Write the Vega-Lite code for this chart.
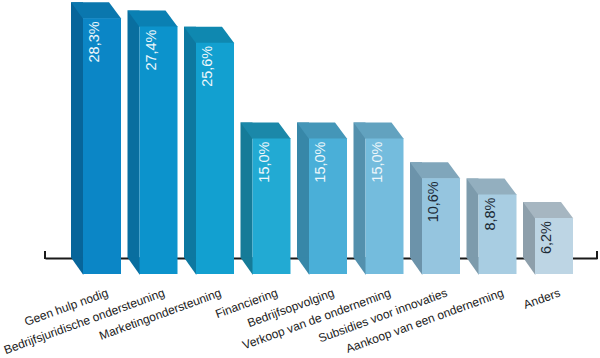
{
  "$schema": "https://vega.github.io/schema/vega-lite/v6.json",
  "width": 552,
  "height": 271,
  "autosize": {"type": "none"},
  "padding": {"left": 45, "right": 3, "top": 3, "bottom": 84},
  "background": "#ffffff",
  "config": {"view": {"stroke": null}},
  "data": {
    "values": [
      {"cat": "Geen hulp nodig", "value": 28.3, "label": "28,3%"},
      {"cat": "Bedrijfsjuridische ondersteuning", "value": 27.4, "label": "27,4%"},
      {"cat": "Marketingondersteuning", "value": 25.6, "label": "25,6%"},
      {"cat": "Financiering", "value": 15.0, "label": "15,0%"},
      {"cat": "Bedrijfsopvolging", "value": 15.0, "label": "15,0%"},
      {"cat": "Verkoop van de onderneming", "value": 15.0, "label": "15,0%"},
      {"cat": "Subsidies voor innovaties", "value": 10.6, "label": "10,6%"},
      {"cat": "Aankoop van een onderneming", "value": 8.8, "label": "8,8%"},
      {"cat": "Anders", "value": 6.2, "label": "6,2%"}
    ]
  },
  "encoding": {
    "x": {
      "field": "cat",
      "type": "nominal",
      "sort": null,
      "scale": {
        "domain": ["Geen hulp nodig", "Bedrijfsjuridische ondersteuning", "Marketingondersteuning", "Financiering", "Bedrijfsopvolging", "Verkoop van de onderneming", "Subsidies voor innovaties", "Aankoop van een onderneming", "Anders"],
        "paddingInner": 0, "paddingOuter": 0.385, "align": 0.661
      },
      "axis": {
        "title": null,
        "domain": true,
        "domainColor": "#1a1a1a",
        "domainWidth": 2,
        "ticks": false,
        "offset": -16,
        "labelAngle": -20,
        "labelAlign": "right",
        "labelBaseline": "top",
        "labelPadding": 29,
        "labelOffset": 4,
        "labelFont": "Liberation Sans",
        "labelFontSize": 12,
        "labelColor": "#222222",
        "labelLimit": 0,
        "labelOverlap": false
      }
    },
    "y": {
      "field": "value",
      "type": "quantitative",
      "scale": {"domain": [0, 30], "nice": false, "zero": true},
      "axis": null
    }
  },
  "layer": [
    {
      "mark": {"type": "rule", "color": "#1a1a1a", "strokeWidth": 2, "xOffset": -28.75, "yOffset": -15, "y2Offset": -23},
      "encoding": {
        "x": {"datum": "Geen hulp nodig", "type": "nominal", "bandPosition": 0},
        "y": {"datum": 0, "type": "quantitative"},
        "y2": {"datum": 0}
      }
    },
    {
      "mark": {"type": "rule", "color": "#1a1a1a", "strokeWidth": 2, "xOffset": 14.75, "yOffset": -15, "y2Offset": -23},
      "encoding": {
        "x": {"datum": "Anders", "type": "nominal", "bandPosition": 1},
        "y": {"datum": 0, "type": "quantitative"},
        "y2": {"datum": 0}
      }
    },
    {
      "mark": {"type": "bar", "width": 12, "xOffset": -25, "yOffset": -16, "y2Offset": -16, "opacity": 1},
      "encoding": {
        "y2": {"datum": 0},
        "color": {
          "field": "cat", "type": "nominal", "legend": null,
          "scale": {
            "domain": ["Geen hulp nodig", "Bedrijfsjuridische ondersteuning", "Marketingondersteuning", "Financiering", "Bedrijfsopvolging", "Verkoop van de onderneming", "Subsidies voor innovaties", "Aankoop van een onderneming", "Anders"],
            "range": ["#07659a", "#096e9f", "#0d78a0", "#157b98", "#3787a8", "#5390ad", "#6c93aa", "#7d9bac", "#8d9fab"]
          }
        }
      }
    },
    {
      "mark": {"type": "point", "filled": true, "size": 4, "opacity": 1, "strokeWidth": 0, "shape": "M -31 -16.5 L -19 0.5 L -18.5 0.5 L -18.5 -16.5 Z"},
      "encoding": {
        "y": {"datum": 0, "type": "quantitative"},
        "color": {
          "field": "cat", "type": "nominal", "legend": null,
          "scale": {
            "domain": ["Geen hulp nodig", "Bedrijfsjuridische ondersteuning", "Marketingondersteuning", "Financiering", "Bedrijfsopvolging", "Verkoop van de onderneming", "Subsidies voor innovaties", "Aankoop van een onderneming", "Anders"],
            "range": ["#07659a", "#096e9f", "#0d78a0", "#157b98", "#3787a8", "#5390ad", "#6c93aa", "#7d9bac", "#8d9fab"]
          }
        }
      }
    },
    {
      "mark": {"type": "point", "filled": true, "size": 4, "opacity": 1, "strokeWidth": 0, "shape": "M -31 -16 L 7 -16 L 19.3 0.5 L -19 0.5 Z"},
      "encoding": {
        "color": {
          "field": "cat", "type": "nominal", "legend": null,
          "scale": {
            "domain": ["Geen hulp nodig", "Bedrijfsjuridische ondersteuning", "Marketingondersteuning", "Financiering", "Bedrijfsopvolging", "Verkoop van de onderneming", "Subsidies voor innovaties", "Aankoop van een onderneming", "Anders"],
            "range": ["#0a77ae", "#0a80b3", "#0f88b0", "#1b88a9", "#4496b8", "#62a2bf", "#80a6bb", "#93afbf", "#a6b6c1"]
          }
        }
      }
    },
    {
      "mark": {"type": "bar", "width": 38, "opacity": 1},
      "encoding": {
        "y2": {"datum": 0},
        "color": {
          "field": "cat", "type": "nominal", "legend": null,
          "scale": {
            "domain": ["Geen hulp nodig", "Bedrijfsjuridische ondersteuning", "Marketingondersteuning", "Financiering", "Bedrijfsopvolging", "Verkoop van de onderneming", "Subsidies voor innovaties", "Aankoop van een onderneming", "Anders"],
            "range": ["#0b86c6", "#0c93cc", "#12a0d0", "#22aad3", "#4aafd8", "#74bcdd", "#95c5df", "#a8cde2", "#bdd5e4"]
          }
        }
      }
    },
    {
      "mark": {"type": "text", "angle": 270, "align": "right", "baseline": "middle", "xOffset": -7, "yOffset": 3, "font": "Liberation Sans", "fontSize": 14.5},
      "encoding": {
        "text": {"field": "label"},
        "color": {"condition": {"test": "datum.value > 12", "value": "#eef7fb"}, "value": "#1c2a36"}
      }
    }
  ],
  "resolve": {"scale": {"color": "independent"}}
}
